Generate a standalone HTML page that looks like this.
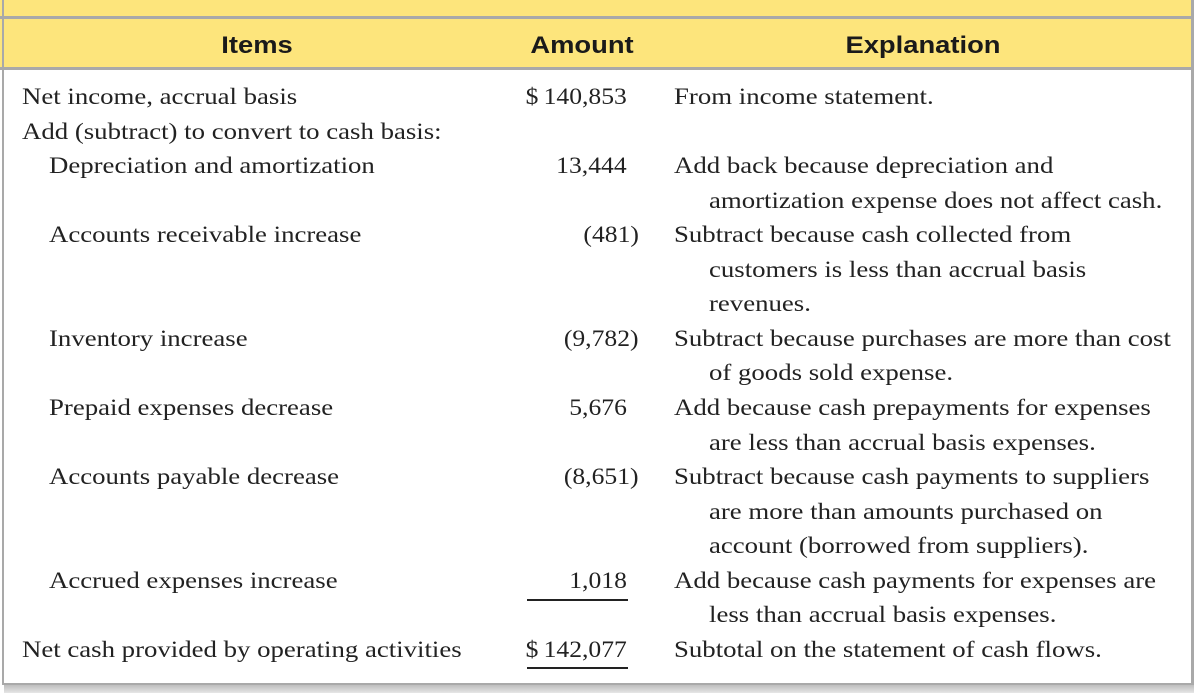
<!DOCTYPE html>
<html><head><meta charset="utf-8"><style>
html,body{margin:0;padding:0;}
body{width:1194px;height:693px;position:relative;overflow:hidden;background:#fff;}
.l{position:absolute;font-family:"Liberation Serif",serif;font-size:23.5px;color:#222;white-space:nowrap;line-height:26px;transform:scaleX(1.14);transform-origin:left center;}
.h{position:absolute;font-family:"Liberation Sans",sans-serif;font-weight:bold;font-size:24px;color:#1a1a1a;line-height:26px;transform:translateX(-50%) scaleX(1.14);}
</style></head><body>
<div style="position:absolute;left:0;top:0;width:1194px;height:16px;background:#fde57c"></div>
<div style="position:absolute;left:0;top:16px;width:1194px;height:3px;background:#a9a9a9"></div>
<div style="position:absolute;left:0;top:19px;width:1194px;height:48px;background:#fde57c"></div>
<div style="position:absolute;left:0;top:67px;width:1194px;height:3px;background:#a9a9a9"></div>
<div style="position:absolute;left:2px;top:0;width:2px;height:685px;background:#a9a9a9"></div>
<div style="position:absolute;left:1191px;top:0;width:3px;height:685px;background:#a9a9a9"></div>
<div style="position:absolute;left:2px;top:683px;width:1192px;height:2px;background:#a9a9a9"></div>
<div style="position:absolute;left:4px;top:685px;width:1190px;height:8px;background:linear-gradient(#bdbdbd,#e6e6e6)"></div>

<div class="h" style="left:257px;top:33px">Items</div>
<div class="h" style="left:582px;top:33px">Amount</div>
<div class="h" style="left:923px;top:33px">Explanation</div>

<div id="rows"></div>
<div style="position:absolute;left:527px;top:599px;width:101px;height:2px;background:#222"></div>
<div style="position:absolute;left:527px;top:667px;width:101px;height:2px;background:#222"></div>

<script>
const lineTop=84, lineH=34.55;
const items=[[0,22,"Net income, accrual basis"],[1,22,"Add (subtract) to convert to cash basis:"],[2,49,"Depreciation and amortization"],[4,49,"Accounts receivable increase"],[7,49,"Inventory increase"],[9,49,"Prepaid expenses decrease"],[11,49,"Accounts payable decrease"],[14,49,"Accrued expenses increase"],[16,22,"Net cash provided by operating activities"]];
const amounts=[[0,"$\u2009140,853",0],[2,"13,444",0],[4,"(481)",1],[7,"(9,782)",1],[9,"5,676",0],[11,"(8,651)",1],[14,"1,018",0],[16,"$\u2009142,077",0]];
const expl=[[0,674,"From income statement."],[2,674,"Add back because depreciation and"],[3,709,"amortization expense does not affect cash."],[4,674,"Subtract because cash collected from"],[5,709,"customers is less than accrual basis"],[6,709,"revenues."],[7,674,"Subtract because purchases are more than cost"],[8,709,"of goods sold expense."],[9,674,"Add because cash prepayments for expenses"],[10,709,"are less than accrual basis expenses."],[11,674,"Subtract because cash payments to suppliers"],[12,709,"are more than amounts purchased on"],[13,709,"account (borrowed from suppliers)."],[14,674,"Add because cash payments for expenses are"],[15,709,"less than accrual basis expenses."],[16,674,"Subtotal on the statement of cash flows."]];
const root=document.getElementById('rows');
function mk(txt,left,row){const d=document.createElement('div');d.className='l';d.textContent=txt;d.style.left=left+'px';d.style.top=(lineTop+row*lineH)+'px';root.appendChild(d);return d;}
items.forEach(([r,x,t])=>{const d=mk(t,x,r);

});
amounts.forEach(([r,t,p])=>{const d=mk(t,0,r);d.style.left='';d.style.right=(1194-(p?639:627))+'px';d.style.transformOrigin='right center';d.style.transform='scaleX(1.09)';

});
expl.forEach(([r,x,t])=>{const d=mk(t,x,r);

});
</script>
</body></html>
